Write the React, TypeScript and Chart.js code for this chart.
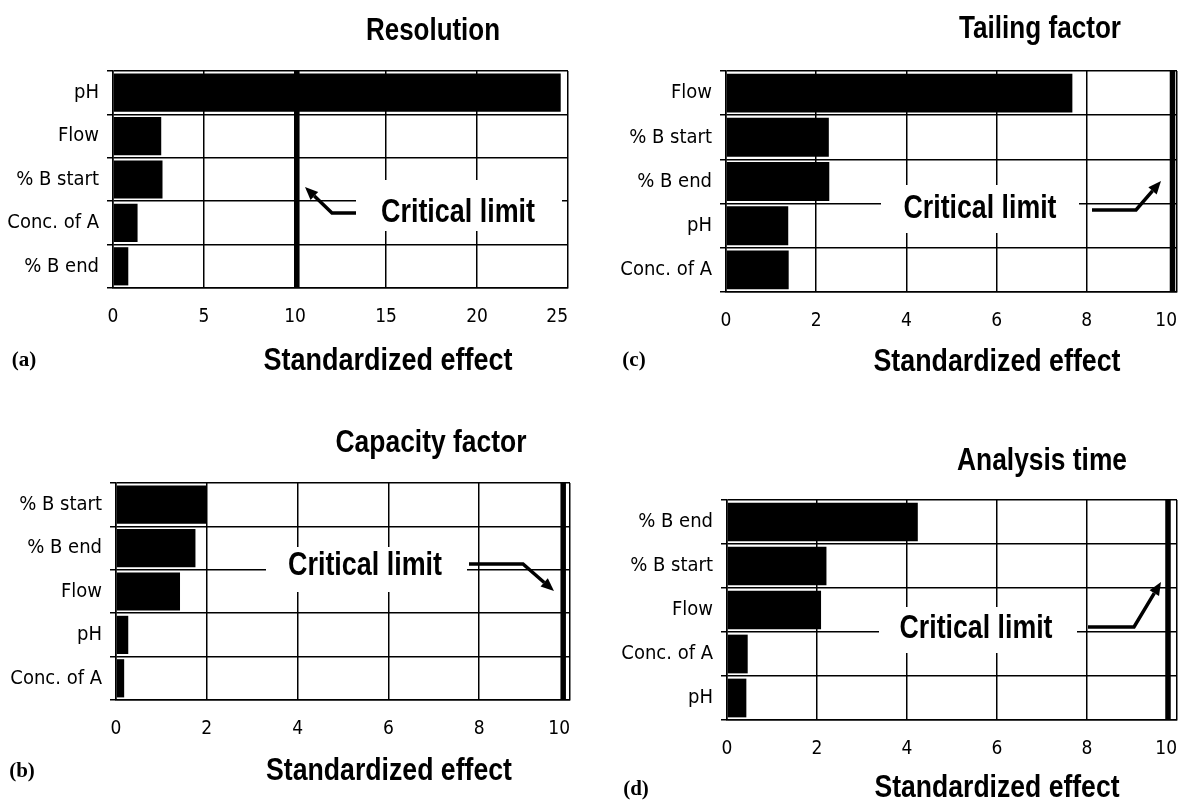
import React, { useEffect, useRef } from 'react';
import { Chart, registerables } from 'chart.js';

Chart.register(...registerables);

const NARROW = "'Liberation Sans Narrow', 'Arial Narrow', 'DejaVu Sans Condensed', 'Liberation Sans', Arial, sans-serif";
const HEAVY = "'Liberation Sans', Arial, Helvetica, sans-serif";
const SERIF = "'Liberation Serif', 'Times New Roman', serif";

// ---------- data ----------
const resolutionFactors = ['pH', 'Flow', '% B start', 'Conc. of A', '% B end'];
const resolutionEffects = [24.6, 2.65, 2.72, 1.35, 0.84];
const resolutionTicks = [0, 5, 10, 15, 20, 25];
const resolutionCritical = 10.1;

const capacityFactors = ['% B start', '% B end', 'Flow', 'pH', 'Conc. of A'];
const capacityEffects = [2.0, 1.75, 1.41, 0.27, 0.18];
const capacityTicks = [0, 2, 4, 6, 8, 10];
const capacityCritical = 9.85;

const tailingFactors = ['Flow', '% B start', '% B end', 'pH', 'Conc. of A'];
const tailingEffects = [7.68, 2.28, 2.29, 1.38, 1.39];
const tailingTicks = [0, 2, 4, 6, 8, 10];
const tailingCritical = 9.9;

const analysisFactors = ['% B end', '% B start', 'Flow', 'Conc. of A', 'pH'];
const analysisEffects = [4.24, 2.21, 2.09, 0.46, 0.43];
const analysisTicks = [0, 2, 4, 6, 8, 10];
const analysisCritical = 9.8;

const AXIS_TITLE = 'Standardized effect';
const CRIT_TEXT = 'Critical limit';

type Pt = [number, number];
interface TextPos { cx: number; base: number; w: number }
interface PanelSpec {
  key: string;
  canvas: { x: number; y: number; w: number; h: number };
  area: { l: number; t: number; r: number; b: number };
  factors: string[];
  effects: number[];
  ticks: number[];
  critical: number;
  title: string;
  titlePos: TextPos;
  axisTitlePos: TextPos;
  letter: string;
  letterPos: { cx: number; base: number };
  critPos: TextPos;
  box: { x0: number; y0: number; x1: number; y1: number };
  arrow: Pt[];
}

const Y_AXIS_W = 112;

const panels: PanelSpec[] = [
  {
    key: 'a',
    canvas: { x: 0, y: 0, w: 610, h: 400 },
    area: { l: 113, t: 71, r: 568, b: 288 },
    factors: resolutionFactors,
    effects: resolutionEffects,
    ticks: resolutionTicks,
    critical: resolutionCritical,
    title: 'Resolution',
    titlePos: { cx: 433, base: 40, w: 134 },
    axisTitlePos: { cx: 388, base: 370, w: 249 },
    letter: '(a)',
    letterPos: { cx: 24, base: 366 },
    critPos: { cx: 458, base: 222, w: 154 },
    box: { x0: 356, y0: 180, x1: 562, y1: 231 },
    arrow: [[356, 213], [332, 213], [305, 187]],
  },
  {
    key: 'c',
    canvas: { x: 590, y: 0, w: 630, h: 400 },
    area: { l: 726, t: 71, r: 1177, b: 292 },
    factors: tailingFactors,
    effects: tailingEffects,
    ticks: tailingTicks,
    critical: tailingCritical,
    title: 'Tailing factor',
    titlePos: { cx: 1040, base: 38, w: 162 },
    axisTitlePos: { cx: 997, base: 371, w: 247 },
    letter: '(c)',
    letterPos: { cx: 634, base: 366 },
    critPos: { cx: 980, base: 218, w: 153 },
    box: { x0: 881, y0: 185, x1: 1079, y1: 233 },
    arrow: [[1092, 210], [1136, 210], [1161, 181]],
  },
  {
    key: 'b',
    canvas: { x: 0, y: 400, w: 610, h: 401 },
    area: { l: 116, t: 483, r: 570, b: 700 },
    factors: capacityFactors,
    effects: capacityEffects,
    ticks: capacityTicks,
    critical: capacityCritical,
    title: 'Capacity factor',
    titlePos: { cx: 431, base: 452, w: 191 },
    axisTitlePos: { cx: 389, base: 780, w: 246 },
    letter: '(b)',
    letterPos: { cx: 22, base: 777 },
    critPos: { cx: 365, base: 575, w: 154 },
    box: { x0: 266, y0: 547, x1: 467, y1: 592 },
    arrow: [[469, 564], [523, 564], [554, 591]],
  },
  {
    key: 'd',
    canvas: { x: 590, y: 400, w: 630, h: 401 },
    area: { l: 727, t: 500, r: 1177, b: 720 },
    factors: analysisFactors,
    effects: analysisEffects,
    ticks: analysisTicks,
    critical: analysisCritical,
    title: 'Analysis time',
    titlePos: { cx: 1042, base: 470, w: 170 },
    axisTitlePos: { cx: 997, base: 797, w: 245 },
    letter: '(d)',
    letterPos: { cx: 636, base: 795 },
    critPos: { cx: 976, base: 638, w: 153 },
    box: { x0: 879, y0: 607, x1: 1077, y1: 653 },
    arrow: [[1088, 627], [1134, 627], [1161, 582]],
  },
];

function drawCondensed(
  ctx: CanvasRenderingContext2D,
  text: string,
  cx: number,
  base: number,
  size: number,
  width: number
) {
  ctx.save();
  ctx.font = `bold ${size}px ${HEAVY}`;
  const m = ctx.measureText(text).width;
  const sx = width / m;
  ctx.translate(cx, base);
  ctx.scale(sx, 1);
  ctx.textAlign = 'center';
  ctx.textBaseline = 'alphabetic';
  ctx.fillStyle = '#000';
  ctx.fillText(text, 0, 0);
  ctx.restore();
}

function makePlugin(p: PanelSpec) {
  const ox = p.canvas.x;
  const oy = p.canvas.y;
  return {
    id: 'deco_' + p.key,
    beforeDatasetsDraw(chart: any) {
      const ctx: CanvasRenderingContext2D = chart.ctx;
      ctx.save();
      ctx.fillStyle = '#fff';
      ctx.fillRect(p.box.x0 - ox, p.box.y0 - oy, p.box.x1 - p.box.x0, p.box.y1 - p.box.y0);
      ctx.restore();
    },
    afterDatasetsDraw(chart: any) {
      const ctx: CanvasRenderingContext2D = chart.ctx;
      const area = chart.chartArea;
      const px = chart.scales.x.getPixelForValue(p.critical);
      ctx.save();
      ctx.fillStyle = '#000';
      ctx.fillRect(px - 2.75, area.top, 5.5, area.bottom - area.top);
      ctx.restore();
    },
    afterDraw(chart: any) {
      const ctx: CanvasRenderingContext2D = chart.ctx;
      drawCondensed(ctx, p.title, p.titlePos.cx - ox, p.titlePos.base - oy, 32, p.titlePos.w);
      drawCondensed(ctx, AXIS_TITLE, p.axisTitlePos.cx - ox, p.axisTitlePos.base - oy, 31, p.axisTitlePos.w);
      drawCondensed(ctx, CRIT_TEXT, p.critPos.cx - ox, p.critPos.base - oy, 33, p.critPos.w);

      ctx.save();
      ctx.font = `bold 21px ${SERIF}`;
      ctx.fillStyle = '#000';
      ctx.textAlign = 'center';
      ctx.textBaseline = 'alphabetic';
      ctx.fillText(p.letter, p.letterPos.cx - ox, p.letterPos.base - oy);
      ctx.restore();

      // arrow
      const pts = p.arrow.map(([x, y]) => [x - ox, y - oy]);
      ctx.save();
      ctx.strokeStyle = '#000';
      ctx.fillStyle = '#000';
      ctx.lineWidth = 3.5;
      ctx.lineJoin = 'miter';
      const n = pts.length;
      const [tx, ty] = pts[n - 1];
      const [qx, qy] = pts[n - 2];
      const ang = Math.atan2(ty - qy, tx - qx);
      const headLen = 13;
      const headW = 5.5;
      const bx = tx - headLen * Math.cos(ang);
      const by = ty - headLen * Math.sin(ang);
      ctx.beginPath();
      ctx.moveTo(pts[0][0], pts[0][1]);
      for (let i = 1; i < n - 1; i++) ctx.lineTo(pts[i][0], pts[i][1]);
      ctx.lineTo(bx, by);
      ctx.stroke();
      ctx.beginPath();
      ctx.moveTo(tx, ty);
      ctx.lineTo(bx + headW * Math.sin(ang), by - headW * Math.cos(ang));
      ctx.lineTo(bx - headW * Math.sin(ang), by + headW * Math.cos(ang));
      ctx.closePath();
      ctx.fill();
      ctx.restore();
    },
  };
}

function Panel({ p }: { p: PanelSpec }) {
  const ref = useRef<HTMLCanvasElement | null>(null);
  useEffect(() => {
    if (!ref.current) return;
    const padL = p.area.l - p.canvas.x - Y_AXIS_W;
    const padR = p.canvas.x + p.canvas.w - p.area.r;
    const padT = p.area.t - p.canvas.y;
    const xH = p.canvas.y + p.canvas.h - p.area.b;
    const chart = new Chart(ref.current, {
      type: 'bar',
      data: {
        labels: p.factors,
        datasets: [
          {
            data: p.effects,
            backgroundColor: '#000',
            borderWidth: 0,
            barPercentage: 0.88,
            categoryPercentage: 1,
          },
        ],
      },
      options: {
        indexAxis: 'y',
        responsive: false,
        animation: false,
        devicePixelRatio: 1,
        layout: { padding: { left: padL, right: padR, top: padT, bottom: 0 } },
        plugins: {
          legend: { display: false },
          tooltip: { enabled: false },
          title: { display: false },
        },
        scales: {
          y: {
            type: 'category',
            offset: true,
            afterFit: (s: any) => {
              s.width = Y_AXIS_W;
            },
            grid: { offset: true, color: '#000', lineWidth: 1.5, tickLength: 6, drawTicks: true },
            border: { display: true, color: '#000', width: 1.5 },
            ticks: { color: '#000', font: { family: NARROW, size: 20 }, padding: 8 },
          },
          x: {
            type: 'linear',
            min: 0,
            max: p.ticks[p.ticks.length - 1],
            afterBuildTicks: (s: any) => {
              s.ticks = p.ticks.map((v) => ({ value: v }));
            },
            afterFit: (s: any) => {
              s.height = xH;
            },
            grid: { color: '#000', lineWidth: 1.5, drawTicks: false },
            border: { display: true, color: '#000', width: 1.5 },
            ticks: {
              color: '#000',
              font: { family: NARROW, size: 19 },
              padding: 18,
              maxRotation: 0,
              autoSkip: false,
              callback: (v: any, i: number, arr: any[]) =>
                i === arr.length - 1 ? String(v) + '\u2007\u2007' : String(v),
            },
          },
        },
      } as any,
      plugins: [makePlugin(p)],
    });
    return () => chart.destroy();
  }, [p]);
  return (
    <canvas
      ref={ref}
      width={p.canvas.w}
      height={p.canvas.h}
      style={{
        position: 'absolute',
        left: p.canvas.x,
        top: p.canvas.y,
        width: p.canvas.w,
        height: p.canvas.h,
      }}
    />
  );
}

export default function App() {
  return (
    <div
      style={{
        position: 'absolute',
        left: 0,
        top: 0,
        width: 1180,
        height: 801,
        background: '#fff',
        overflow: 'hidden',
      }}
    >
      {panels.map((p) => (
        <Panel key={p.key} p={p} />
      ))}
    </div>
  );
}
